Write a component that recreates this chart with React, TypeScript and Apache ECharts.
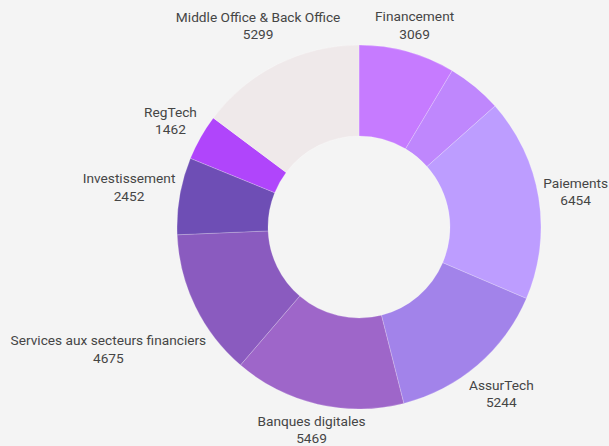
import React, { useEffect, useRef } from "react";
import * as echarts from "echarts";

const categories = [
  "Financement",
  "Autres",
  "Paiements",
  "AssurTech",
  "Banques digitales",
  "Services aux secteurs financiers",
  "Investissement",
  "RegTech",
  "Middle Office & Back Office",
];
const values = [3069, 1750, 6454, 5244, 5469, 4675, 2452, 1462, 5299];
const colors = [
  "#c67bff",
  "#bf87fd",
  "#bd9dff",
  "#a283ea",
  "#9e66c9",
  "#8a5bbf",
  "#6e4eb5",
  "#b045fb",
  "#efe9ea",
];
const hiddenLabels = ["Autres"];

const CX = 359;
const CY = 227;
const R_IN = 91;
const R_OUT = 182;
const GAP = 3;

export default function App() {
  const ref = useRef<HTMLDivElement>(null);
  useEffect(() => {
    const chart = echarts.init(ref.current!, null, { renderer: "svg" });
    const total = values.reduce((a, b) => a + b, 0);
    const mids: number[] = [];
    let acc = 0;
    values.forEach((v) => {
      mids.push(((acc + v / 2) / total) * 2 * Math.PI);
      acc += v;
    });
    chart.setOption({
      animation: false,
      backgroundColor: "#f4f4f4",
      series: [
        {
          type: "pie",
          center: [CX, CY],
          radius: [R_IN, R_OUT],
          startAngle: 90,
          clockwise: true,
          avoidLabelOverlap: false,
          data: categories.map((name, i) => ({
            name,
            value: values[i],
            itemStyle: { color: colors[i] },
            label: hiddenLabels.includes(name) ? { show: false } : undefined,
          })),
          itemStyle: { borderColor: "rgba(255,255,255,0.35)", borderWidth: 0.6 },
          label: {
            show: true,
            position: "inside",
            formatter: "{b}\n{c}",
            color: "#454545",
            fontFamily: "Roboto",
            fontSize: 13.7,
            lineHeight: 17.5,
            align: "center",
          },
          labelLine: { show: false },
          emphasis: { disabled: true },
          labelLayout: (p: any) => {
            const a = mids[p.dataIndex];
            const dx = Math.sin(a);
            const dy = -Math.cos(a);
            const hw = p.labelRect.width / 2;
            const hh = p.labelRect.height / 2;
            const target = R_OUT + GAP;
            let lo = 0;
            let hi = 800;
            for (let k = 0; k < 40; k++) {
              const t = (lo + hi) / 2;
              const ex = Math.max(Math.abs(t * dx) - hw, 0);
              const ey = Math.max(Math.abs(t * dy) - hh, 0);
              if (Math.hypot(ex, ey) < target) lo = t;
              else hi = t;
            }
            return {
              x: CX + hi * dx,
              y: CY + hi * dy,
              align: "center",
              verticalAlign: "middle",
            };
          },
        },
      ],
    });
    return () => chart.dispose();
  }, []);
  return (
    <div
      ref={ref}
      style={{ position: "fixed", left: 0, top: 0, width: 609, height: 446 }}
    />
  );
}
